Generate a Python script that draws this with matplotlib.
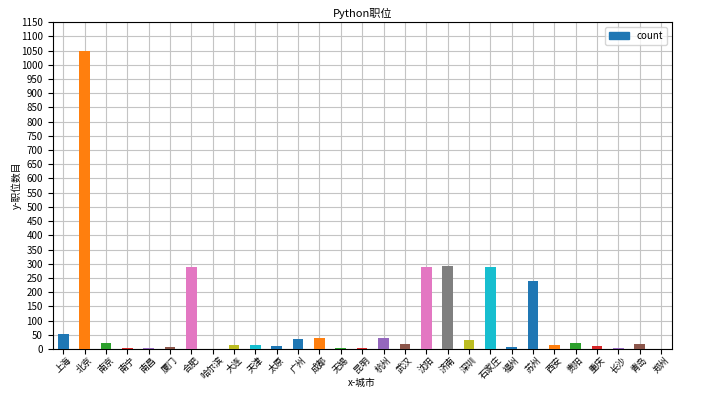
import numpy as np
import matplotlib
matplotlib.use('Agg')
import matplotlib.pyplot as plt

plt.rcParams['font.family'] = ['Noto Sans CJK SC', 'DejaVu Sans']

# -------- DATA --------
cities = ['上海', '北京', '南京', '南宁', '南昌', '厦门', '合肥', '哈尔滨', '大连', '天津',
          '太原', '广州', '成都', '无锡', '昆明', '杭州', '武汉', '沈阳', '济南', '深圳',
          '石家庄', '福州', '苏州', '西安', '贵阳', '重庆', '长沙', '青岛', '郑州']
counts = [53, 1048, 22, 3, 5, 7, 288, 2, 15, 15,
          10, 35, 38, 5, 3, 38, 17, 287, 292, 33,
          287, 8, 238, 14, 21, 10, 3, 18, 2]

palette = ['#1f77b4', '#ff7f0e', '#2ca02c', '#d62728', '#9467bd', '#8c564b',
           '#e377c2', '#7f7f7f', '#bcbd22', '#17becf', '#1f77b4']
colors = [palette[i % len(palette)] for i in range(len(cities))]

# -------- PLOT --------
fig, ax = plt.subplots(figsize=(7.2, 3.94), dpi=100)
fig.subplots_adjust(left=0.073, right=0.933, top=0.944, bottom=0.114)

x = np.arange(len(cities))
ax.bar(x, counts, width=0.5, color=colors, label='count', zorder=3)

ax.set_xlim(-0.5, len(cities) - 0.5)
ax.set_ylim(0, 1150)
ax.set_yticks(np.arange(0, 1151, 50))
ax.set_xticks(x)
ax.set_xticklabels(cities, rotation=45, fontsize=6.5)
ax.tick_params(axis='y', labelsize=7)
ax.tick_params(axis='x', pad=1)
ax.grid(True, color='#c4c4c4', linewidth=0.8, zorder=0)

ax.set_title('Python职位', fontsize=8, pad=4)
ax.set_xlabel('x-城市', fontsize=7, va='top')
ax.xaxis.set_label_coords(0.5, -0.088)
ax.set_ylabel('y-职位数目', fontsize=7)
ax.yaxis.set_label_coords(-0.05, 0.5)

leg = ax.legend(loc='upper right', fontsize=7)
leg.legend_handles[0].set_color('#1f77b4')

plt.savefig('out.png')
